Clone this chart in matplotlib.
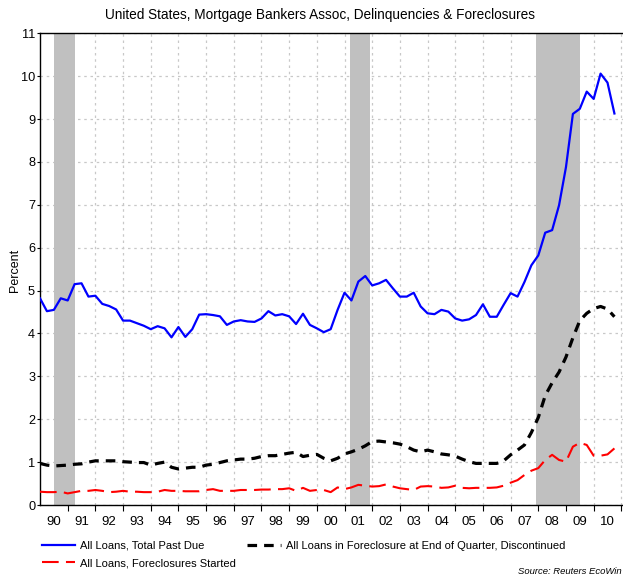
import matplotlib
matplotlib.use("Agg")
import matplotlib.pyplot as plt
from matplotlib.lines import Line2D

plt.rcParams['font.family'] = ['Liberation Sans', 'DejaVu Sans']

# Quarterly observations, 1989Q4 .. 2010Q3 (plotted at quarter end)
first_year, first_q = 1989, 4
total_past_due = [
    4.82,
    4.52, 4.55, 4.82, 4.77,
    5.15, 5.17, 4.86, 4.88,
    4.69, 4.64, 4.56, 4.30,
    4.30, 4.24, 4.18, 4.10,
    4.17, 4.12, 3.91, 4.15,
    3.92, 4.10, 4.44, 4.45,
    4.43, 4.40, 4.20, 4.28,
    4.31, 4.28, 4.27, 4.35,
    4.52, 4.42, 4.45, 4.40,
    4.22, 4.46, 4.20, 4.12,
    4.03, 4.10, 4.55, 4.95,
    4.77, 5.21, 5.34, 5.12,
    5.17, 5.25, 5.05, 4.86,
    4.86, 4.95, 4.63, 4.47,
    4.45, 4.55, 4.51, 4.35,
    4.30, 4.33, 4.43, 4.68,
    4.39, 4.39, 4.67, 4.94,
    4.86, 5.20, 5.59, 5.82,
    6.35, 6.41, 6.99, 7.88,
    9.12, 9.24, 9.64, 9.47,
    10.06, 9.85, 9.13,
]
in_foreclosure = [
    0.97,
    0.93, 0.91, 0.92, 0.93,
    0.95, 0.96, 1.00, 1.03,
    1.03, 1.03, 1.03, 1.01,
    1.00, 0.99, 0.99, 0.93,
    0.97, 1.00, 0.88, 0.84,
    0.86, 0.88, 0.88, 0.93,
    0.95, 0.99, 1.03, 1.05,
    1.07, 1.07, 1.09, 1.13,
    1.15, 1.15, 1.18, 1.21,
    1.23, 1.13, 1.16, 1.18,
    1.09, 1.03, 1.09, 1.19,
    1.24, 1.30, 1.38, 1.48,
    1.49, 1.47, 1.45, 1.42,
    1.36, 1.28, 1.24, 1.28,
    1.24, 1.19, 1.17, 1.14,
    1.07, 1.01, 0.97, 0.97,
    0.97, 0.97, 1.03, 1.17,
    1.28, 1.40, 1.69, 2.04,
    2.55, 2.85, 3.10, 3.45,
    3.90, 4.30, 4.47, 4.58,
    4.63, 4.57, 4.39,
]
foreclosures_started = [
    0.31,
    0.30, 0.30, 0.31, 0.27,
    0.30, 0.33, 0.33, 0.35,
    0.33, 0.30, 0.31, 0.33,
    0.31, 0.31, 0.30, 0.30,
    0.31, 0.35, 0.33, 0.33,
    0.32, 0.32, 0.32, 0.35,
    0.37, 0.33, 0.33, 0.33,
    0.35, 0.35, 0.35, 0.36,
    0.36, 0.37, 0.37, 0.39,
    0.33, 0.40, 0.33, 0.35,
    0.35, 0.30, 0.41, 0.37,
    0.41, 0.47, 0.45, 0.43,
    0.44, 0.48, 0.43, 0.39,
    0.37, 0.35, 0.43, 0.44,
    0.43, 0.40, 0.41, 0.45,
    0.40, 0.39, 0.40, 0.40,
    0.40, 0.41, 0.45, 0.52,
    0.58, 0.70, 0.80, 0.86,
    1.05, 1.17, 1.05, 1.01,
    1.36, 1.45, 1.40, 1.15,
    1.15, 1.18, 1.32,
]
recessions = [(1990.5, 1991.25), (2001.2, 2001.92), (2007.92, 2009.5)]
year_labels = ['90', '91', '92', '93', '94', '95', '96', '97', '98', '99', '00',
               '01', '02', '03', '04', '05', '06', '07', '08', '09', '10']
label_start_year = 1990
series_names = ['All Loans, Total Past Due',
                'All Loans, Foreclosures Started',
                'All Loans in Foreclosure at End of Quarter, Discontinued']

# quarter-end positions in decimal years
x = []
yy, q = first_year, first_q
for _ in total_past_due:
    x.append(yy + q * 0.25)
    q += 1
    if q > 4:
        q = 1
        yy += 1

W, H = 623, 577
fig = plt.figure(figsize=(W / 100, H / 100), dpi=100)
L, R, T, B = 40, 623, 33.3, 505
ax = fig.add_axes([L / W, (H - B) / H, (R - L) / W, (B - T) / H])

for a, b in recessions:
    ax.axvspan(a, b, color='#c0c0c0', lw=0, zorder=1)

ax.plot(x, total_past_due, color='#0000ff', lw=1.6, zorder=4)
ax.plot(x, foreclosures_started, color='#ff0000', lw=1.5, dashes=(8, 3.5), zorder=4)
ax.plot(x, in_foreclosure, color='black', lw=2.3, dashes=(3, 2.2), zorder=4)

ax.set_xlim(1990, 2011.06)
ax.set_ylim(0, 11)
ax.set_yticks(range(0, 12))
ax.set_xticks([label_start_year + i for i in range(1, 22)])
ax.set_xticklabels([])
ax.set_xticks([label_start_year + i + 0.5 for i in range(len(year_labels))], minor=True)
ax.set_xticklabels(year_labels, minor=True)
ax.tick_params(axis='x', which='minor', length=0, pad=8, labelsize=9.5)
ax.tick_params(axis='x', which='major', length=4, width=0.8, direction='out')
ax.tick_params(axis='y', length=2.5, width=0.8, direction='out', labelsize=9.2, pad=1)

ax.grid(True, which='major', color='#c8c8c8', lw=0.9, linestyle=(0, (2, 3)), zorder=0)
ax.set_axisbelow(True)
ax.spines['right'].set_visible(False)
for s in ['left', 'bottom', 'top']:
    ax.spines[s].set_linewidth(1.0)

ax.set_ylabel('Percent', fontsize=9)
ax.yaxis.set_label_coords((21 - L) / (R - L), (B - 270) / (B - T))

fig.text(320 / W, 1 - 15 / H, 'United States, Mortgage Bankers Assoc, Delinquencies & Foreclosures',
         ha='center', va='center', fontsize=9.8)

handles = [Line2D([], [], color='#0000ff', lw=1.6),
           Line2D([], [], color='#ff0000', lw=1.5, dashes=(8, 3.5)),
           Line2D([], [], color='black', lw=2.3, dashes=(3, 2.2))]
fig.legend(handles, series_names, ncol=2, loc='upper left',
           bbox_to_anchor=(42 / W, 1 - 541 / H), frameon=False, fontsize=8,
           handlelength=3.0, handletextpad=0.45, columnspacing=1.0, labelspacing=0.65,
           borderpad=0, borderaxespad=0)

fig.text(622 / W, 1 - 572 / H, 'Source: Reuters EcoWin', ha='right', va='center',
         fontsize=6.8, style='italic')

fig.savefig('out.png', dpi=100)
